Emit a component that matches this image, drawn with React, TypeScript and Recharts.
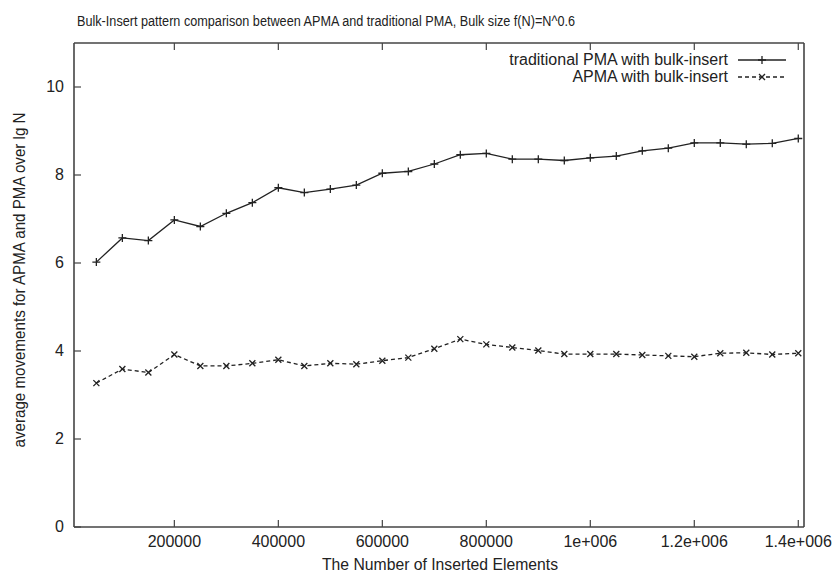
import { LineChart, Line, XAxis, YAxis, Legend } from 'recharts';

// x values: number of inserted elements
const inserted = [
  50000, 100000, 150000, 200000, 250000, 300000, 350000, 400000, 450000, 500000,
  550000, 600000, 650000, 700000, 750000, 800000, 850000, 900000, 950000, 1000000,
  1050000, 1100000, 1150000, 1200000, 1250000, 1300000, 1350000, 1400000,
];

const traditionalPma = [
  6.02, 6.57, 6.51, 6.98, 6.83, 7.13, 7.37, 7.71, 7.6, 7.68,
  7.77, 8.04, 8.08, 8.25, 8.46, 8.49, 8.36, 8.36, 8.33, 8.39,
  8.43, 8.55, 8.61, 8.73, 8.73, 8.7, 8.72, 8.83,
];

const apma = [
  3.27, 3.59, 3.51, 3.92, 3.66, 3.66, 3.72, 3.8, 3.66, 3.72,
  3.7, 3.78, 3.85, 4.05, 4.27, 4.15, 4.08, 4.01, 3.93, 3.93,
  3.93, 3.91, 3.89, 3.87, 3.95, 3.96, 3.92, 3.95,
];

const xTicks = [200000, 400000, 600000, 800000, 1000000, 1200000, 1400000];
const xTickLabels = ['200000', '400000', '600000', '800000', '1e+006', '1.2e+006', '1.4e+006'];
const yTicks = [0, 2, 4, 6, 8, 10];

const title = 'Bulk-Insert pattern comparison between APMA and traditional PMA, Bulk size f(N)=N^0.6';
const xLabel = 'The Number of Inserted Elements';
const yLabel = 'average movements for APMA and PMA over lg N';
const seriesNames = ['traditional PMA with bulk-insert', 'APMA with bulk-insert'];

const data = inserted.map((n, i) => ({ n, trad: traditionalPma[i], apma: apma[i] }));

const FONT = '"Liberation Sans", Arial, sans-serif';
const INK = '#222';
const FRAME = '#444';

const PlusDot = (props: any) => {
  const { cx, cy, index } = props;
  return (
    <path key={`p${index}`} d={`M${cx - 4},${cy}H${cx + 4}M${cx},${cy - 4}V${cy + 4}`} stroke={INK} strokeWidth={1.3} />
  );
};

const CrossDot = (props: any) => {
  const { cx, cy, index } = props;
  return (
    <path key={`c${index}`} d={`M${cx - 3},${cy - 3}L${cx + 3},${cy + 3}M${cx + 3},${cy - 3}L${cx - 3},${cy + 3}`} stroke={INK} strokeWidth={1.3} />
  );
};

const BottomTick = ({ x, y, payload }: any) => {
  const i = xTicks.indexOf(payload.value);
  return (
    <g>
      <line x1={x} x2={x} y1={y} y2={y - 7} stroke={FRAME} strokeWidth={1.2} />
      <text x={x} y={y + 20} textAnchor="middle" fontSize={16} fontFamily={FONT} fill="#222">
        {xTickLabels[i]}
      </text>
    </g>
  );
};

const TopTick = ({ x, y }: any) => <line x1={x} x2={x} y1={y} y2={y + 7} stroke={FRAME} strokeWidth={1.2} />;

const LeftTick = ({ x, y, payload }: any) => (
  <g>
    <line x1={x} x2={x + 7} y1={y} y2={y} stroke={FRAME} strokeWidth={1.2} />
    <text x={x - 10} y={y + 5} textAnchor="end" fontSize={16} fontFamily={FONT} fill="#222">
      {payload.value}
    </text>
  </g>
);

const RightTick = ({ x, y }: any) => <line x1={x} x2={x - 7} y1={y} y2={y} stroke={FRAME} strokeWidth={1.2} />;

const LegendBox = () => (
  <div style={{ fontFamily: FONT, fontSize: 16, color: '#222', lineHeight: '17px' }}>
    {seriesNames.map((name, i) => (
      <div key={name} style={{ display: 'flex', justifyContent: 'flex-end', alignItems: 'center' }}>
        <span>{name}</span>
        <svg width={56} height={14} style={{ marginLeft: 8 }}>
          <line x1={2} x2={50} y1={7} y2={7} stroke={INK} strokeWidth={1.3} strokeDasharray={i === 1 ? '4 3' : undefined} />
          {i === 0 ? (
            <path d="M26,3V11M22,7H30" stroke={INK} strokeWidth={1.3} />
          ) : (
            <path d="M23,4L29,10M29,4L23,10" stroke={INK} strokeWidth={1.3} />
          )}
        </svg>
      </div>
    ))}
  </div>
);

export default function App() {
  return (
    <div style={{ position: 'absolute', left: 0, top: 0, width: 834, height: 574, background: '#fff' }}>
      <LineChart width={834} height={574} data={data} margin={{ top: 42, right: 29, bottom: 46, left: 73 }}>
        <XAxis
          xAxisId="bottom"
          dataKey="n"
          type="number"
          domain={[7000, 1411000]}
          ticks={xTicks}
          height={1}
          tickSize={0}
          tickMargin={0}
          tickLine={false}
          axisLine={{ stroke: FRAME, strokeWidth: 1.6 }}
          tick={BottomTick}
          interval={0}
          allowDataOverflow
        />
        <XAxis
          xAxisId="top"
          orientation="top"
          dataKey="n"
          type="number"
          domain={[7000, 1411000]}
          ticks={xTicks}
          height={1}
          tickSize={0}
          tickMargin={0}
          tickLine={false}
          axisLine={{ stroke: FRAME, strokeWidth: 1.6 }}
          tick={TopTick}
          interval={0}
          allowDataOverflow
        />
        <YAxis
          yAxisId="left"
          type="number"
          domain={[0, 11]}
          ticks={yTicks}
          width={1}
          tickSize={0}
          tickMargin={0}
          tickLine={false}
          axisLine={{ stroke: FRAME, strokeWidth: 1.6 }}
          tick={LeftTick}
          interval={0}
        />
        <YAxis
          yAxisId="right"
          orientation="right"
          type="number"
          domain={[0, 11]}
          ticks={yTicks}
          width={1}
          tickSize={0}
          tickMargin={0}
          tickLine={false}
          axisLine={{ stroke: FRAME, strokeWidth: 1.6 }}
          tick={RightTick}
          interval={0}
        />
        <Legend
          layout="vertical"
          align="center"
          verticalAlign="middle"
          wrapperStyle={{ top: 51, left: 440, width: 352 }}
          content={LegendBox}
        />
        <Line
          xAxisId="bottom"
          yAxisId="left"
          dataKey="trad"
          name={seriesNames[0]}
          stroke={INK}
          strokeWidth={1.3}
          dot={PlusDot}
          activeDot={false}
          isAnimationActive={false}
        />
        <Line
          xAxisId="bottom"
          yAxisId="left"
          dataKey="apma"
          name={seriesNames[1]}
          stroke={INK}
          strokeWidth={1.3}
          strokeDasharray="4 3"
          dot={CrossDot}
          activeDot={false}
          isAnimationActive={false}
        />
      </LineChart>
      <svg width={834} height={574} style={{ position: 'absolute', left: 0, top: 0, pointerEvents: 'none' }}>
        <text x={326} y={26} textAnchor="middle" fontSize={15.5} fontFamily={FONT} fill="#222" textLength={498} lengthAdjust="spacingAndGlyphs">
          {title}
        </text>
        <text x={440} y={570} textAnchor="middle" fontSize={16} fontFamily={FONT} fill="#222" textLength={236} lengthAdjust="spacingAndGlyphs">
          {xLabel}
        </text>
        <text
          x={0}
          y={0}
          transform="translate(25,280) rotate(-90)"
          textAnchor="middle"
          fontSize={16}
          fontFamily={FONT}
          fill="#222"
          textLength={335}
          lengthAdjust="spacingAndGlyphs"
        >
          {yLabel}
        </text>
      </svg>
    </div>
  );
}
